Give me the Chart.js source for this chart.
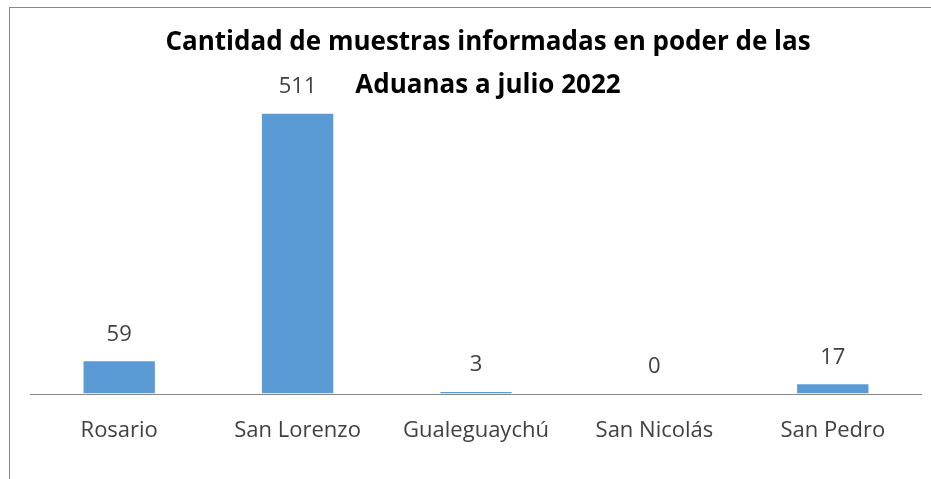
<!DOCTYPE html>
<html>
<head>
<meta charset="utf-8">
<script src="https://cdn.jsdelivr.net/npm/chart.js@4"></script>
<style>
  html, body { margin: 0; padding: 0; background: #fff; }
  #wrap { position: relative; width: 931px; height: 479px; overflow: hidden; }
  #frame { position: absolute; left: 9px; top: 7px; width: 940px; height: 490px;
           border-left: 1px solid #8a8a8a; border-top: 1px solid #8a8a8a; }
  canvas { position: absolute; left: 0; top: 0; }
</style>
</head>
<body>
<div id="wrap">
  <div id="frame"></div>
  <canvas id="chart" width="931" height="479"></canvas>
</div>
<script>
// --- datos ---
const titleLines = ['Cantidad de muestras informadas en poder de las', 'Aduanas a julio 2022'];
const categories = ['Rosario', 'San Lorenzo', 'Gualeguaychú', 'San Nicolás', 'San Pedro'];
const samples = [59, 511, 3, 0, 17];

const labelFont = '22px "Open Sans", sans-serif';
const textColor = '#404040';

// título dibujado a mano (se superpone al área del gráfico como en Excel)
const titlePlugin = {
  id: 'titleText',
  afterDraw(chart) {
    const c = chart.ctx;
    c.save();
    c.fillStyle = '#000';
    c.font = 'bold 26px "Open Sans", sans-serif';
    c.textAlign = 'center';
    c.textBaseline = 'middle';
    c.fillText(titleLines[0], 488, 43);
    c.fillText(titleLines[1], 488, 86);
    c.restore();
  }
};

// línea base y etiquetas de valor sobre cada barra
const valuePlugin = {
  id: 'valueLabels',
  afterDatasetsDraw(chart) {
    const c = chart.ctx;
    const area = chart.chartArea;
    const y0 = Math.round(chart.scales.y.getPixelForValue(0)) + 0.5;
    c.save();
    c.strokeStyle = '#868686';
    c.lineWidth = 1;
    c.beginPath();
    c.moveTo(area.left, y0);
    c.lineTo(area.right, y0);
    c.stroke();

    const meta = chart.getDatasetMeta(0);
    c.fillStyle = textColor;
    c.font = labelFont;
    c.textAlign = 'center';
    c.textBaseline = 'middle';
    meta.data.forEach((bar, i) => {
      c.fillText(String(samples[i]), bar.x, bar.y - 27);
    });
    c.restore();
  }
};

new Chart(document.getElementById('chart'), {
  type: 'bar',
  data: {
    labels: categories,
    datasets: [{
      data: samples,
      backgroundColor: '#5b9bd5',
      borderWidth: 0,
      categoryPercentage: 1,
      barPercentage: 0.4
    }]
  },
  options: {
    responsive: false,
    animation: false,
    layout: { padding: { top: 65, left: 30, right: 9, bottom: 11 } },
    plugins: { legend: { display: false }, tooltip: { enabled: false }, title: { display: false } },
    scales: {
      x: {
        grid: { display: false, drawTicks: false },
        border: { display: false },
        ticks: { color: textColor, font: { family: '"Open Sans", sans-serif', size: 22 }, padding: 24, maxRotation: 0 }
      },
      y: {
        display: false,
        min: 0,
        max: 600
      }
    }
  },
  plugins: [titlePlugin, valuePlugin]
});
</script>
</body>
</html>
